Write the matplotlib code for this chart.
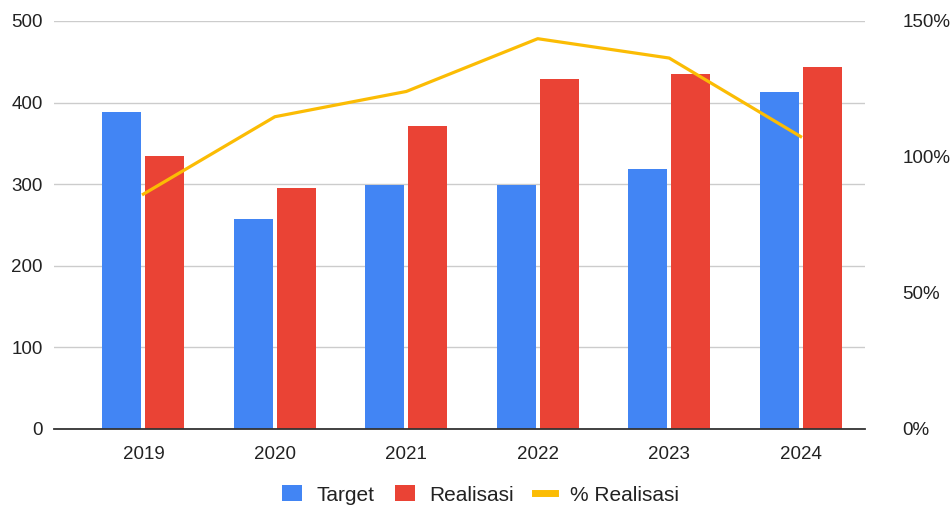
import numpy as np
import matplotlib
matplotlib.use("Agg")
from matplotlib import pyplot as plt
from matplotlib.ticker import FuncFormatter

font = {'family': 'Liberation Sans', 'size': 13.5}
matplotlib.rc("font", **font)

# data
tahun = ["2019", "2020", "2021", "2022", "2023", "2024"]
target = [388, 257, 299, 299, 319, 413]
realisasi = [335, 295, 371, 429, 435, 444]
persen = [r / t * 100 for r, t in zip(realisasi, target)]

biru = "#4285F4"
merah = "#EA4335"
kuning = "#FBBC04"

fig = plt.figure(figsize=(9.51, 5.05), dpi=100)
ax = fig.add_axes([0.0568, 0.1505, 0.8528, 0.808])

x = np.arange(len(tahun))
lebar = 0.297
ax.bar(x - 0.164, target, lebar, color=biru, label="Target", zorder=3)
ax.bar(x + 0.164, realisasi, lebar, color=merah, label="Realisasi", zorder=3)

ax.set_ylim(0, 500)
ax.set_xlim(-0.68, 5.49)
ax.set_yticks(range(0, 501, 100))
ax.set_xticks(x)
ax.set_xticklabels(tahun)
ax.grid(axis="y", color="#cccccc", linewidth=1, zorder=0)
for s in ["top", "right", "left"]:
    ax.spines[s].set_visible(False)
ax.spines["bottom"].set_color("#333333")
ax.spines["bottom"].set_linewidth(1.3)
ax.spines["bottom"].set_zorder(4)
ax.tick_params(axis="both", length=0, colors="#222222")
ax.tick_params(axis="y", pad=8)
ax.tick_params(axis="x", pad=12)

# sumbu kanan untuk persentase
ax2 = ax.twinx()
ax2.plot(x, persen, color=kuning, linewidth=2.3, label="% Realisasi", zorder=5)
ax2.set_ylim(0, 150)
ax2.set_yticks([0, 50, 100, 150])
ax2.yaxis.set_major_formatter(FuncFormatter(lambda v, p: "{:.0f}%".format(v)))
for s in ["top", "right", "left", "bottom"]:
    ax2.spines[s].set_visible(False)
ax2.tick_params(axis="y", length=0, pad=27, colors="#222222")

# legenda
h1, l1 = ax.get_legend_handles_labels()
h2, l2 = ax2.get_legend_handles_labels()
leg = fig.legend(h1 + h2, l1 + l2, loc="center", bbox_to_anchor=(0.505, 0.02),
                 ncol=3, frameon=False, fontsize=15, handlelength=0.96,
                 handleheight=0.8, columnspacing=1.0, handletextpad=0.7)
leg.legend_handles[2].set_linewidth(5)
for t in leg.get_texts():
    t.set_color("#222222")

plt.savefig("out.png", dpi=100)
